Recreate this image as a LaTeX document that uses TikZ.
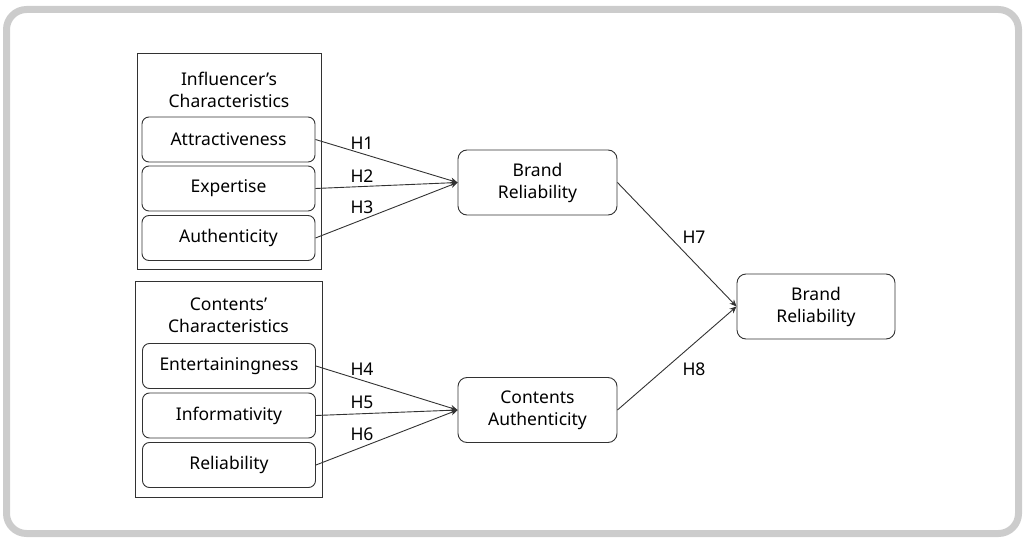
\documentclass[tikz,border=0pt]{standalone}
\usepackage{fontspec}
\setmainfont{Noto Sans}
\usetikzlibrary{arrows.meta}
\definecolor{framegray}{RGB}{204,204,204}
\definecolor{linegray}{RGB}{50,50,50}
\tikzset{
  grp/.style={draw=linegray, line width=0.9pt, minimum width=184pt, minimum height=216pt, inner sep=0pt},
  sub/.style={draw=linegray, line width=0.9pt, rounded corners=7pt, minimum width=173pt, minimum height=45pt, inner sep=0pt, font=\fontsize{17.5}{20}\selectfont},
  big/.style={draw=linegray, line width=0.9pt, rounded corners=9pt, minimum width=159pt, minimum height=65pt, inner sep=0pt, align=center, font=\fontsize{17.5}{22}\selectfont},
  ttl/.style={align=center, font=\fontsize{17.5}{22}\selectfont},
  lbl/.style={font=\fontsize{17.5}{20}\selectfont, inner sep=0pt},
  conn/.style={draw=linegray, line width=0.9pt, -{Stealth[length=7pt,width=6pt]}}
}
\begin{document}
\begin{tikzpicture}[x=1pt,y=-1pt]
\useasboundingbox (0,0) rectangle (1025,540);
\draw[line width=7pt, framegray, rounded corners=20pt] (6.5,9.5) rectangle (1018.5,533.5);
% group 1
\node[grp] (g1) at (229,161) {};
\node[ttl] (t1) at (229,90) {Influencer’s\\Characteristics};
\node[sub] (a1) at (228.5,139.5) {Attractiveness};
\node[sub] (a2) at (228.5,188.5) {Expertise};
\node[sub] (a3) at (228.5,238) {Authenticity};
% group 2
\node[grp, minimum width=187pt] (g2) at (228.5,389) {};
\node[ttl] (t2) at (228.5,315) {Contents’\\Characteristics};
\node[sub] (b1) at (229,366) {Entertainingness};
\node[sub] (b2) at (229,415.5) {Informativity};
\node[sub] (b3) at (229,465) {Reliability};
% middle
\node[big] (m1) at (537.5,182.5) {Brand\\Reliability};
\node[big] (m2) at (537.5,410) {Contents\\Authenticity};
% right
\node[big, minimum width=158pt] (r) at (816,306.5) {Brand\\Reliability};
% connectors
\draw[conn] (a1.east) -- (m1.west);
\draw[conn] (a2.east) -- (m1.west);
\draw[conn] (a3.east) -- (m1.west);
\draw[conn] (b1.east) -- (m2.west);
\draw[conn] (b2.east) -- (m2.west);
\draw[conn] (b3.east) -- (m2.west);
\draw[conn] (m1.east) -- (r.west);
\draw[conn] (m2.east) -- (r.west);
% labels
\node[lbl] (h1) at (362,143) {H1};
\node[lbl] (h2) at (362,176) {H2};
\node[lbl] (h3) at (362,207) {H3};
\node[lbl] (h4) at (362,369) {H4};
\node[lbl] (h5) at (362,402) {H5};
\node[lbl] (h6) at (362,434) {H6};
\node[lbl] (h7) at (694,237) {H7};
\node[lbl] (h8) at (694,369) {H8};
\end{tikzpicture}
\end{document}
